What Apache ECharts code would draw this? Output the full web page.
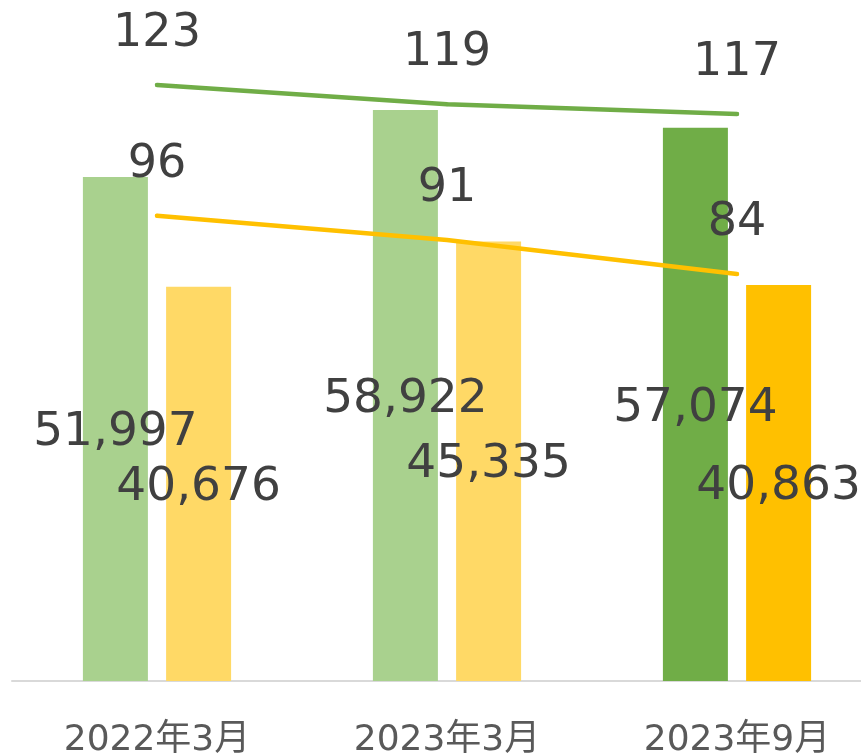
<!DOCTYPE html>
<html>
<head>
<meta charset="utf-8">
<script src="https://cdn.jsdelivr.net/npm/echarts@6/dist/echarts.min.js"></script>
<style>
  html, body { margin: 0; padding: 0; background: #fff; }
  #chart { width: 861px; height: 756px; }
</style>
</head>
<body>
<div id="chart"></div>
<script>
// 数据
const categories = ['2022年3月', '2023年3月', '2023年9月'];
const barGreen = [51997, 58922, 57074];
const barYellow = [40676, 45335, 40863];
const lineGreen = [123, 119, 117];
const lineYellow = [96, 91, 84];

const FONT = "'DejaVu Sans', 'Noto Sans CJK JP', sans-serif";
const textColor = '#404040';

const chart = echarts.init(document.getElementById('chart'));

const barLabel = {
    show: true,
    position: 'inside',
    offset: [0, 4],
    color: textColor,
    fontSize: 47,
    fontFamily: FONT,
    formatter: p => p.value.toLocaleString('en-US')
};

const lineLabel = {
    show: true,
    position: 'top',
    distance: 26,
    color: textColor,
    fontSize: 46,
    fontFamily: FONT
};

function lineSeries(data, color) {
    return {
        type: 'line',
        yAxisIndex: 1,
        data: data,
        symbol: 'circle',
        symbolSize: 4,
        showSymbol: true,
        itemStyle: { color: color, borderWidth: 0 },
        lineStyle: { color: color, width: 4.5, cap: 'round' },
        label: lineLabel,
        z: 3
    };
}

const option = {
    animation: false,
    grid: {
        left: 12,
        width: 870,
        top: 2.5,
        bottom: 75,
        outerBoundsMode: 'none'
    },
    xAxis: {
        type: 'category',
        data: categories,
        axisLine: { lineStyle: { color: '#d9d9d9', width: 2 } },
        axisTick: { show: false },
        axisLabel: {
            color: '#595959',
            fontSize: 36,
            fontFamily: FONT,
            margin: 42
        }
    },
    yAxis: [
        { type: 'value', min: 0, max: 70000, show: false, splitLine: { show: false } },
        { type: 'value', min: 0, max: 140, show: false, splitLine: { show: false } }
    ],
    series: [
        {
            type: 'bar',
            data: barGreen,
            barWidth: 65,
            barGap: '28%',
            itemStyle: {
                color: p => p.dataIndex === 2 ? '#70AD47' : '#A9D18E'
            },
            label: barLabel,
            z: 2
        },
        {
            type: 'bar',
            data: barYellow,
            barWidth: 65,
            itemStyle: {
                color: p => p.dataIndex === 2 ? '#FFC000' : '#FFD966'
            },
            label: barLabel,
            z: 2
        },
        lineSeries(lineGreen, '#70AD47'),
        lineSeries(lineYellow, '#FFC000')
    ]
};

chart.setOption(option);
</script>
</body>
</html>
